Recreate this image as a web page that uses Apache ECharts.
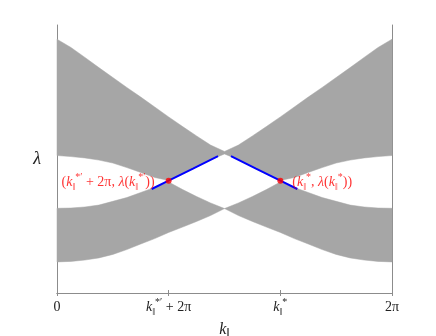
<!DOCTYPE html>
<html>
<head>
<meta charset="utf-8">
<script src="https://cdn.jsdelivr.net/npm/echarts@6/dist/echarts.min.js"></script>
<style>html,body{margin:0;padding:0;background:#fff}#c{width:436px;height:336px}</style>
</head>
<body>
<div id="c"></div>
<script>
// k grid (radians), 0 .. 2π
const kGrid = [0, 0.262, 0.524, 0.785, 1.047, 1.309, 1.571, 1.833, 2.094, 2.356, 2.618, 2.880, 3.142,
  3.403, 3.665, 3.927, 4.189, 4.451, 4.712, 4.974, 5.236, 5.498, 5.760, 6.021, 6.283];
// upper spectral band: top and bottom edges (λ)
const upperBandTop = [0.947, 0.916, 0.879, 0.841, 0.804, 0.767, 0.731, 0.694, 0.657, 0.621, 0.586, 0.552, 0.528,
  0.552, 0.586, 0.621, 0.657, 0.694, 0.731, 0.767, 0.804, 0.841, 0.879, 0.916, 0.947];
const upperBandBottom = [0.513, 0.509, 0.504, 0.496, 0.485, 0.468, 0.450, 0.431, 0.420, 0.445, 0.471, 0.497, 0.519,
  0.497, 0.471, 0.445, 0.420, 0.431, 0.450, 0.468, 0.485, 0.496, 0.504, 0.509, 0.513];
// lower spectral band: top and bottom edges (λ)
const lowerBandTop = [0.316, 0.317, 0.321, 0.328, 0.342, 0.356, 0.375, 0.394, 0.414, 0.386, 0.360, 0.336, 0.315,
  0.336, 0.360, 0.386, 0.414, 0.394, 0.375, 0.356, 0.342, 0.328, 0.321, 0.317, 0.316];
const lowerBandBottom = [0.116, 0.118, 0.123, 0.131, 0.144, 0.162, 0.183, 0.203, 0.226, 0.246, 0.267, 0.289, 0.315,
  0.289, 0.267, 0.246, 0.226, 0.203, 0.183, 0.162, 0.144, 0.131, 0.123, 0.118, 0.116];
// blue curves
const blueLeftK = [1.776, 2.094, 2.551, 3.020];
const blueLeftL = [0.388, 0.419, 0.464, 0.511];
const blueRightK = [3.263, 3.732, 4.189, 4.507];
const blueRightL = [0.511, 0.464, 0.419, 0.388];
// red points
const pointK = [2.094, 4.189];
const pointL = [0.419, 0.419];
// tick labels
const tickLabels = ['{n|0}', '{i|k}{sub|‖}{sup|*′}{n| + 2π}', '{i|k}{sub|‖}{sup|*}', '{n|2π}'];

const TWO_PI = Math.PI * 2;
const serif = 'Liberation Serif';

function bandSeries(top, bottom) {
  return {
    type: 'custom',
    silent: true,
    z: 1,
    data: [[kGrid[0], top[0]]],
    encode: { x: 0, y: 1 },
    renderItem: function (params, api) {
      const pts = [];
      for (let i = 0; i < kGrid.length; i++) pts.push(api.coord([kGrid[i], top[i]]));
      for (let i = kGrid.length - 1; i >= 0; i--) pts.push(api.coord([kGrid[i], bottom[i]]));
      return { type: 'polygon', shape: { points: pts }, style: { fill: '#a6a6a6', stroke: '#a6a6a6', lineWidth: 0.5 } };
    }
  };
}

function makeRich(size, color) {
  return {
    i: { fontFamily: serif, fontStyle: 'italic', fontSize: size, color: color, lineHeight: 20 },
    n: { fontFamily: serif, fontSize: size, color: color, lineHeight: 20 },
    sub: { fontFamily: serif, fontSize: Math.round(size * 0.72), color: color, verticalAlign: 'bottom', lineHeight: 20 },
    sup: { fontFamily: serif, fontSize: Math.round(size * 0.72), color: color, verticalAlign: 'top', lineHeight: 20 }
  };
}

const chart = echarts.init(document.getElementById('c'), null, { renderer: 'canvas' });
chart.setOption({
  animation: false,
  grid: { left: 57, right: 44, top: 25, bottom: 43, containLabel: false, outerBoundsMode: 'none' },
  xAxis: [{
    type: 'value', min: 0, max: TWO_PI, interval: TWO_PI / 3,
    axisLine: { show: true, lineStyle: { color: '#8c8c8c', width: 1 } },
    axisTick: { show: true, inside: true, length: 3, lineStyle: { color: '#8c8c8c' } },
    splitLine: { show: false },
    axisLabel: {
      margin: 4, color: '#222',
      formatter: function (v) { return tickLabels[Math.round(v / (TWO_PI / 3))]; },
      rich: makeRich(14, '#222')
    },
    name: '{i|k}{sub|‖}', nameLocation: 'middle', nameGap: 14,
    nameTextStyle: { rich: makeRich(16, '#222') }
  }, {
    type: 'value', position: 'top', min: 0, max: TWO_PI, interval: TWO_PI / 3,
    axisLine: { show: true, lineStyle: { color: '#8c8c8c', width: 1 } },
    axisTick: { show: true, inside: true, length: 3, lineStyle: { color: '#8c8c8c' } },
    axisLabel: { show: false }, splitLine: { show: false }
  }],
  yAxis: [{
    type: 'value', min: 0, max: 1,
    axisLine: { show: true, lineStyle: { color: '#8c8c8c', width: 1 } },
    axisTick: { show: false }, axisLabel: { show: false }, splitLine: { show: false },
    name: 'λ', nameLocation: 'middle', nameRotate: 0, nameGap: 16,
    nameTextStyle: { fontFamily: serif, fontStyle: 'italic', fontSize: 18, color: '#222' }
  }, {
    type: 'value', position: 'right', min: 0, max: 1,
    axisLine: { show: true, onZero: false, lineStyle: { color: '#8c8c8c', width: 1 } },
    axisTick: { show: false }, axisLabel: { show: false }, splitLine: { show: false }
  }],
  series: [
    bandSeries(upperBandTop, upperBandBottom),
    bandSeries(lowerBandTop, lowerBandBottom),
    {
      type: 'line', z: 3, symbol: 'none', smooth: true,
      data: blueLeftK.map((k, i) => [k, blueLeftL[i]]),
      lineStyle: { color: '#0000ff', width: 2 }
    },
    {
      type: 'line', z: 3, symbol: 'none', smooth: true,
      data: blueRightK.map((k, i) => [k, blueRightL[i]]),
      lineStyle: { color: '#0000ff', width: 2 }
    },
    {
      type: 'scatter', z: 4, symbolSize: 6,
      itemStyle: { color: '#ff0000' },
      data: [
        { value: [pointK[0], pointL[0]], label: { show: true, position: 'left', distance: 11, offset: [0, 2],
          formatter: '{n|(}{i|k}{sub|‖}{sup|*′}{n| + 2π, }{i|λ}{n|(}{i|k}{sub|‖}{sup|*′}{n|))}', rich: makeRich(14, '#ff0000') } },
        { value: [pointK[1], pointL[1]], label: { show: true, position: 'right', distance: 9, offset: [0, 2],
          formatter: '{n|(}{i|k}{sub|‖}{sup|*}{n|, }{i|λ}{n|(}{i|k}{sub|‖}{sup|*}{n|))}', rich: makeRich(14, '#ff0000') } }
      ]
    }
  ]
});
</script>
</body>
</html>
